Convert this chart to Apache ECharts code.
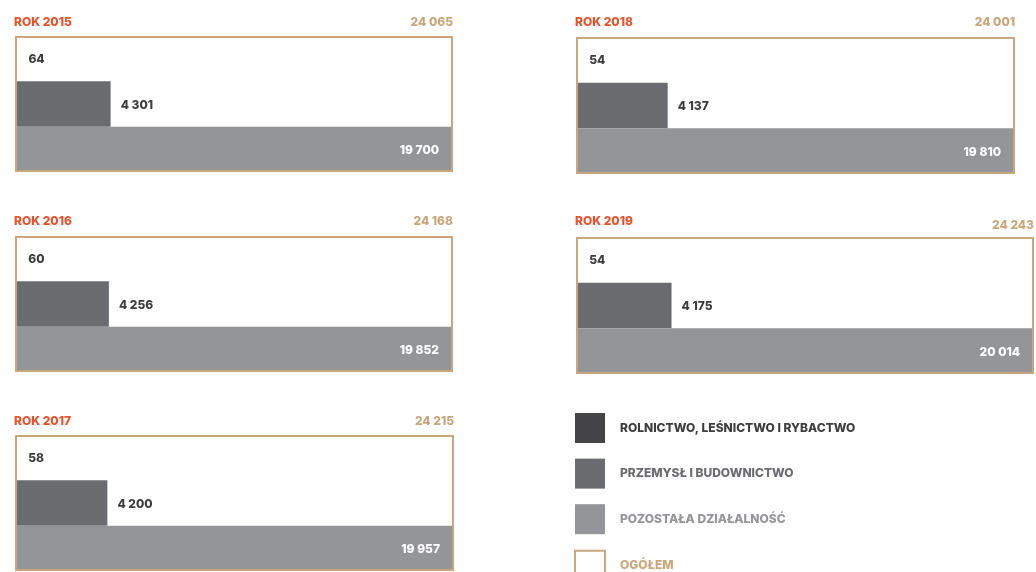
<!DOCTYPE html>
<html><head><meta charset="utf-8">
<script src="https://cdn.jsdelivr.net/npm/echarts@6/dist/echarts.min.js"></script>
<style>html,body{margin:0;padding:0;background:#fff}#c{width:1036px;height:572px}</style>
</head><body><div id="c"></div>
<script>
const years = ['2015', '2016', '2017', '2018', '2019'];
const categories = ['ROLNICTWO, LEŚNICTWO I RYBACTWO', 'PRZEMYSŁ I BUDOWNICTWO', 'POZOSTAŁA DZIAŁALNOŚĆ'];
const totalName = 'OGÓŁEM';
const rolnictwo = [64, 60, 58, 54, 54];
const przemysl = [4301, 4256, 4200, 4137, 4175];
const pozostala = [19700, 19852, 19957, 19810, 20014];
const ogolem = [24065, 24168, 24215, 24001, 24243];

// layout (pixels)
const panels = [
  {left: 15, top: 36, width: 438, height: 136, titleTop: 16, totalDy: -14},
  {left: 15, top: 236, width: 438, height: 136, titleTop: 215, totalDy: -15},
  {left: 15, top: 435, width: 439, height: 136, titleTop: 415, totalDy: -14},
  {left: 576, top: 37, width: 439, height: 137, titleTop: 16, totalDy: -15},
  {left: 576, top: 237, width: 458, height: 137, titleTop: 215, totalDy: -12}
];
const colors = ['#3f3f41', '#6b6c70', '#949599'];
const tan = '#c9a67b';
const orange = '#e9512b';
const FONT = 'Inter';
const W = 800;
const fmt = v => String(v).replace(/\B(?=(\d{3})+(?!\d))/g, ' ');

const grid = [], xAxis = [], yAxis = [], series = [], title = [];
const hiddenAxis = {show: false, axisLine: {show: false}, axisTick: {show: false}, axisLabel: {show: false}, splitLine: {show: false}};
years.forEach((y, i) => {
  const p = panels[i];
  grid.push({left: p.left, top: p.top, width: p.width, height: p.height, show: false});
  const vals = [rolnictwo[i], przemysl[i], pozostala[i]];
  const mx = Math.max.apply(null, vals);
  xAxis.push(Object.assign({type: 'value', gridIndex: i, min: 0, max: mx}, hiddenAxis));
  xAxis.push(Object.assign({type: 'value', gridIndex: i, min: 0, max: ogolem[i]}, hiddenAxis));
  yAxis.push(Object.assign({type: 'category', gridIndex: i, data: categories, inverse: true}, hiddenAxis));
  yAxis.push(Object.assign({type: 'category', gridIndex: i, data: [totalName]}, hiddenAxis));
  title.push({text: 'ROK ' + y, left: p.left - 1, top: p.titleTop, padding: 0,
    textStyle: {fontFamily: FONT, fontWeight: W, fontSize: 12, color: orange}});
  categories.forEach((c, k) => {
    const d = categories.map((_, j) => j === k ? vals[k] : '-');
    let label;
    if (k === 2) label = {show: true, position: 'insideRight', distance: 14, color: '#fff', offset: [0, 1]};
    else label = {show: true, position: 'right', distance: k === 0 ? 12 : 10, color: '#3d3d3f', offset: [0, 1]};
    label.fontFamily = FONT; label.fontWeight = W; label.fontSize = 12;
    label.formatter = pp => fmt(pp.value);
    series.push({name: c, type: 'bar', xAxisIndex: 2 * i, yAxisIndex: 2 * i, stack: 's' + i,
      data: d, barCategoryGap: 0, itemStyle: {color: colors[k]}, label: label, silent: true});
  });
  series.push({name: totalName, type: 'bar', xAxisIndex: 2 * i + 1, yAxisIndex: 2 * i + 1,
    data: [ogolem[i]], barWidth: '100%', z: 5, silent: true,
    itemStyle: {color: 'rgba(255,255,255,0)', borderColor: tan, borderWidth: 2},
    label: {show: true, position: ['100%', p.totalDy], align: 'right', verticalAlign: 'middle',
      color: tan, fontFamily: FONT, fontWeight: W, fontSize: 12, formatter: pp => fmt(pp.value)}});
});

const legendColors = [colors[0], colors[1], colors[2]];
const option = {
  animation: false,
  title: title,
  grid: grid, xAxis: xAxis, yAxis: yAxis, series: series,
  legend: {
    orient: 'vertical', left: 574, top: 413, height: 220, padding: 0,
    itemWidth: 30, itemHeight: 30, itemGap: 15.6, selectedMode: false,
    textStyle: {fontFamily: FONT, fontWeight: W, fontSize: 12, padding: [5, 0, 0, 10]},
    data: categories.map((c, k) => ({name: c, icon: 'rect', itemStyle: {color: k === 0 ? '#444446' : legendColors[k], borderWidth: 0},
      textStyle: {color: k === 0 ? '#3d3d3f' : legendColors[k]}}))
      .concat([{name: totalName, icon: 'rect', itemStyle: {color: '#fff', borderColor: tan, borderWidth: 2},
        textStyle: {color: tan}}])
  }
};
echarts.init(document.getElementById('c'), null, {renderer: 'canvas'}).setOption(option);
</script></body></html>
